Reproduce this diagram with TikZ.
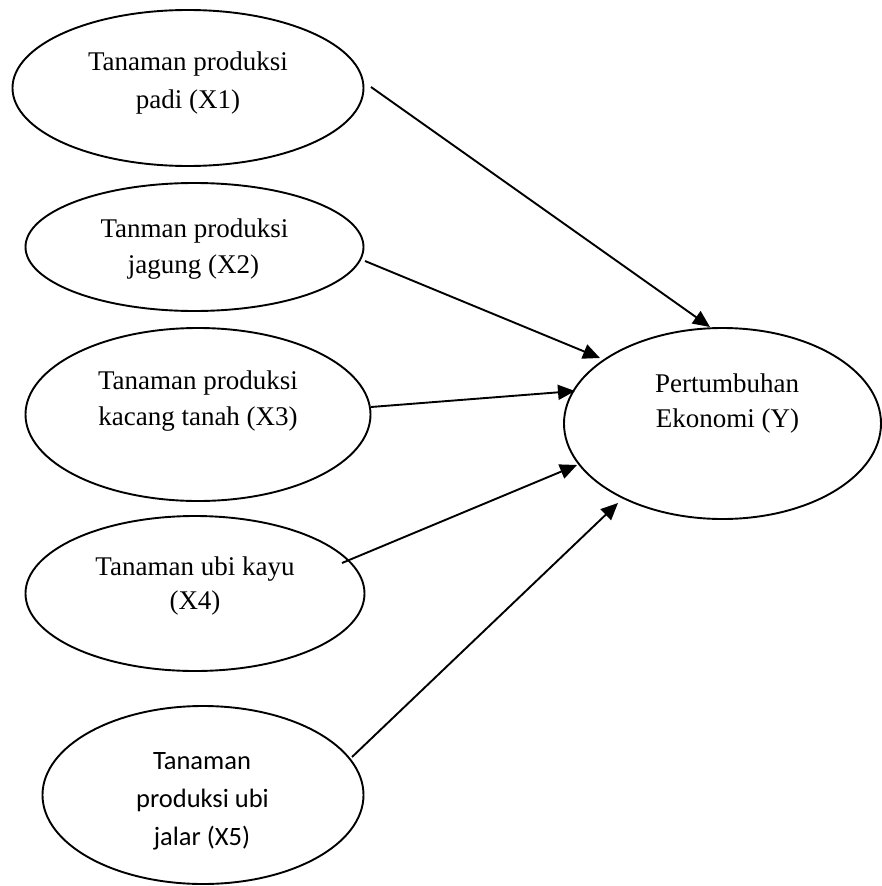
\documentclass[tikz,border=0pt]{standalone}
\usepackage{fontspec}
\setmainfont{Liberation Serif}
\newfontfamily\calib{Carlito}
\usetikzlibrary{shapes.geometric,arrows.meta}
\begin{document}
\begin{tikzpicture}[x=1pt,y=-1pt,
  oval/.style={draw,ellipse,line width=1.9pt,inner sep=0pt},
  lbl/.style={anchor=base,inner sep=0pt,font=\fontsize{27}{36}\selectfont},
  lbls/.style={anchor=base,inner sep=0pt,font=\calib\fontsize{26.5}{38}\selectfont},
  conn/.style={line width=1.9pt,-{Triangle[length=17pt,width=15pt]}}]
\useasboundingbox (0,0) rectangle (882,886);
% ellipses
\node[oval,minimum width=351pt,minimum height=156pt] (e1) at (188,88) {};
\node[oval,minimum width=338pt,minimum height=128pt] (e2) at (194.5,247) {};
\node[oval,minimum width=345pt,minimum height=173pt] (e3) at (198,414.5) {};
\node[oval,minimum width=339pt,minimum height=155pt] (e4) at (195,593.5) {};
\node[oval,minimum width=321pt,minimum height=178pt] (e5) at (203,795) {};
\node[oval,minimum width=317pt,minimum height=191pt] (ey) at (722.5,423.5) {};
% texts
\node[lbl] (t1a) at (188,70) {Tanaman produksi};
\node[lbl] (t1b) at (188,108) {padi (X1)};
\node[lbl] (t2a) at (194.5,237) {Tanman produksi};
\node[lbl] (t2b) at (193.5,273) {jagung (X2)};
\node[lbl] (t3a) at (198,389) {Tanaman produksi};
\node[lbl] (t3b) at (198,425) {kacang tanah (X3)};
\node[lbl] (t4a) at (195,575) {Tanaman ubi kayu};
\node[lbl] (t4b) at (195,609) {(X4)};
\node[lbls] (t5a) at (202,769) {Tanaman};
\node[lbls] (t5b) at (202.5,807) {produksi ubi};
\node[lbls] (t5c) at (202,845) {jalar (X5)};
\node[lbl] (tya) at (727,392) {Pertumbuhan};
\node[lbl] (tyb) at (727.5,427) {Ekonomi (Y)};
% connector ends
\coordinate (s1) at (371,87);  \coordinate (d1) at (710,327);
\coordinate (s2) at (365,261); \coordinate (d2) at (600,358);
\coordinate (s3) at (371,407); \coordinate (d3) at (575,391);
\coordinate (s4) at (342,563); \coordinate (d4) at (577,465);
\coordinate (s5) at (352,757); \coordinate (d5) at (618,503);
\draw[conn] (s1) -- (d1);
\draw[conn] (s2) -- (d2);
\draw[conn] (s3) -- (d3);
\draw[conn] (s4) -- (d4);
\draw[conn] (s5) -- (d5);
\end{tikzpicture}
\end{document}
